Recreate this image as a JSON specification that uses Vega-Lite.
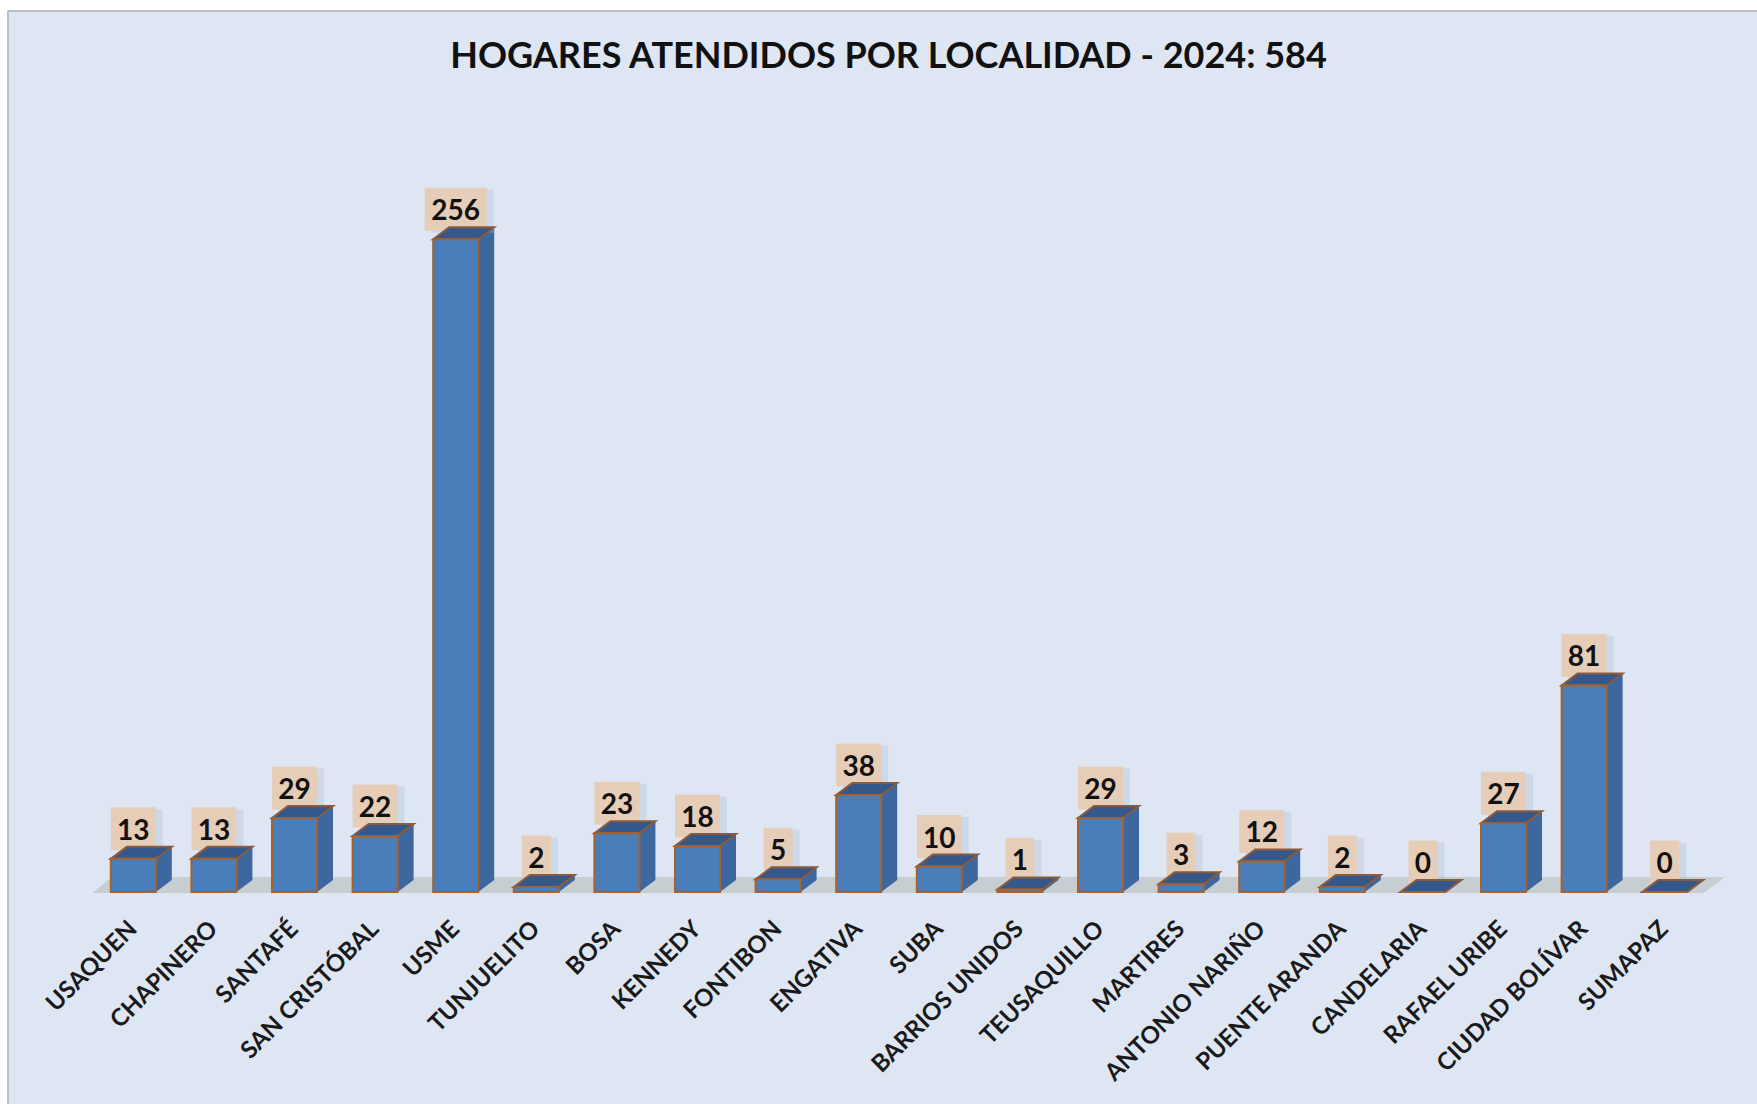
{
"$schema":"https://vega.github.io/schema/vega-lite/v6.json",
"width":1749,"height":1093,
"autosize":{"type":"none"},
"padding":{"left":8,"top":11,"right":0,"bottom":0},
"background":"#ffffff",
"view":{"fill":"#dee6f4","stroke":"#bcbfc4","strokeWidth":2,"strokeDash":[1749,2842,1093,0]},
"title":{"text":"HOGARES ATENDIDOS POR LOCALIDAD - 2024: 584","font":"Lato","fontSize":36,"fontWeight":"bold","color":"#111111","anchor":"middle","dx":6,"offset":-65,"frame":"group"},
"data":{"values":[
{"localidad":"USAQUEN","hogares":13},{"localidad":"CHAPINERO","hogares":13},{"localidad":"SANTAFÉ","hogares":29},{"localidad":"SAN CRISTÓBAL","hogares":22},{"localidad":"USME","hogares":256},{"localidad":"TUNJUELITO","hogares":2},{"localidad":"BOSA","hogares":23},{"localidad":"KENNEDY","hogares":18},{"localidad":"FONTIBON","hogares":5},{"localidad":"ENGATIVA","hogares":38},{"localidad":"SUBA","hogares":10},{"localidad":"BARRIOS UNIDOS","hogares":1},{"localidad":"TEUSAQUILLO","hogares":29},{"localidad":"MARTIRES","hogares":3},{"localidad":"ANTONIO NARIÑO","hogares":12},{"localidad":"PUENTE ARANDA","hogares":2},{"localidad":"CANDELARIA","hogares":0},{"localidad":"RAFAEL URIBE","hogares":27},{"localidad":"CIUDAD BOLÍVAR","hogares":81},{"localidad":"SUMAPAZ","hogares":0}
]},
"encoding":{
"x":{"field":"localidad","type":"nominal","sort":null,
"scale":{"domain":["USAQUEN","CHAPINERO","SANTAFÉ","SAN CRISTÓBAL","USME","TUNJUELITO","BOSA","KENNEDY","FONTIBON","ENGATIVA","SUBA","BARRIOS UNIDOS","TEUSAQUILLO","MARTIRES","ANTONIO NARIÑO","PUENTE ARANDA","CANDELARIA","RAFAEL URIBE","CIUDAD BOLÍVAR","SUMAPAZ"],"range":[85,1697],"paddingInner":0,"paddingOuter":0},
"axis":{"title":null,"domain":false,"ticks":false,"grid":false,"labelAngle":-45,"labelAlign":"right","labelBaseline":"middle","labelFont":"Lato","labelFontSize":24,"labelFontWeight":"bold","labelColor":"#1a1a1a","labelPadding":33,"labelOverlap":false,"labelBound":false,"labelLimit":400,"offset":-212,"zindex":1}},
"y":{"field":"hogares","type":"quantitative","stack":null,"scale":{"domain":[0,300],"range":[881,116],"nice":false},"axis":null}
},
"layer":[
{"transform":[{"filter":"datum.localidad==='SUBA'"}],
 "mark":{"type":"point","filled":true,"opacity":1,"size":4,"fill":"#c6ced2","stroke":null,"shape":"M-847,1 L-827,-15 L786,-15 L764,1 Z"},
 "encoding":{"y":{"datum":0}}},
{"mark":{"type":"bar","width":16,"xOffset":30.5,"yOffset":-12,"y2Offset":-12,"fill":"#3c689f"},
 "encoding":{"y2":{"datum":0}}},
{"mark":{"type":"point","filled":true,"opacity":1,"size":4,"fill":"#3c689f","stroke":null,"shape":"M22.5,0 L22.5,-12 L38.5,-12 Z"},
 "encoding":{"y":{"datum":0}}},
{"mark":{"type":"point","filled":true,"size":4,"opacity":0.35,"fill":"#aebdd0","stroke":null,"xOffset":7,"yOffset":-28},
 "encoding":{"shape":{"condition":[{"test":"datum.hogares<10","value":"M-14.5,-21.5 H14.5 V21.5 H-14.5 Z"},{"test":"datum.hogares<100","value":"M-22.5,-21.5 H22.5 V21.5 H-22.5 Z"}],"value":"M-31,-21.5 H31 V21.5 H-31 Z"}}},
{"mark":{"type":"point","filled":true,"size":4,"opacity":1,"fill":"#e6cdb8","stroke":null,"yOffset":-30},
 "encoding":{"shape":{"condition":[{"test":"datum.hogares<10","value":"M-14.5,-21.5 H14.5 V21.5 H-14.5 Z"},{"test":"datum.hogares<100","value":"M-22.5,-21.5 H22.5 V21.5 H-22.5 Z"}],"value":"M-31,-21.5 H31 V21.5 H-31 Z"}}},
{"mark":{"type":"point","filled":true,"opacity":1,"size":4,"fill":"#35588a","stroke":"#8a5a3c","strokeWidth":2,"shape":"M-22.5,0 L22.5,0 L38.5,-12 L-6.5,-12 Z"}},
{"mark":{"type":"bar","width":45,"fill":"#4a7ebb","stroke":"#a5622e","strokeWidth":2},
 "encoding":{"y2":{"datum":0}}},
{"mark":{"type":"text","font":"Lato","fontSize":28,"fontWeight":"bold","color":"#111111","align":"center","baseline":"middle","yOffset":-27},
 "encoding":{"text":{"field":"hogares","type":"quantitative"}}}
]
}
